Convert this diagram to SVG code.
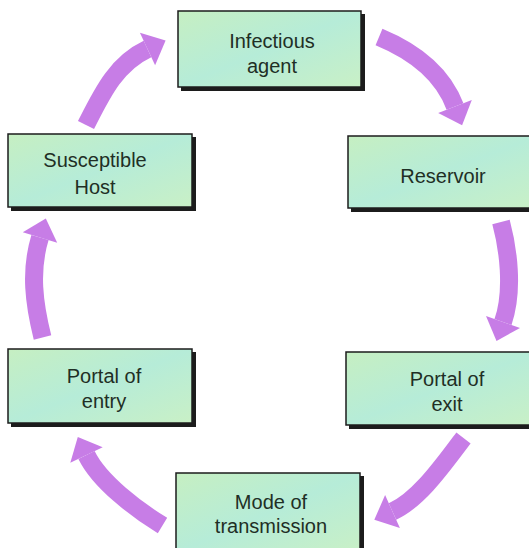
<svg xmlns="http://www.w3.org/2000/svg" width="529" height="548" viewBox="0 0 529 548">
<defs>
<linearGradient id="g" x1="0" y1="0" x2="1" y2="1">
<stop offset="0" stop-color="#c6efc2"/>
<stop offset="0.5" stop-color="#b6ecd8"/>
<stop offset="1" stop-color="#c9f0c6"/>
</linearGradient>
<style>
.sh{fill:#1c1c1c}
.bx{fill:url(#g);stroke:#1c1c1c;stroke-width:1.5}
.t{font-family:"Liberation Sans",Arial,sans-serif;font-size:20px;fill:#1f2f25;text-anchor:middle}
.ab{fill:none;stroke:#c77de6;stroke-width:18}
.ah{fill:#c77de6}
</style>
</defs>
<rect width="529" height="548" fill="#ffffff"/>
<g id="connectors">
<path class="ab" d="M379,37 Q438,61.4 455,106.5"/>
<polygon class="ah" points="471.8,100.1 438.2,112.9 462.1,125.2"/>
<path class="ab" d="M501,222 C508,248 514,290 503,322"/>
<polygon class="ah" points="520,327.9 486,316.1 496.5,340.9"/>
<path class="ab" d="M463.5,438 C445,462 420,499 392.5,511.5"/>
<polygon class="ah" points="399.9,527.9 385.1,495.1 374.3,519.7"/>
<path class="ab" d="M162.5,525.5 C137,510 99.6,482 86.5,455"/>
<polygon class="ah" points="102.7,447.2 70.3,462.8 77.8,437"/>
<path class="ab" d="M42.5,337.5 C34,303.5 29.8,271 40,237.5"/>
<polygon class="ah" points="57.2,242.8 22.8,232.2 45.8,218.4"/>
<path class="ab" d="M86,125 C101.8,93.9 115.8,63.8 147.5,49"/>
<polygon class="ah" points="155.1,65.3 139.9,32.7 165.6,40.5"/>
</g>
<g id="infectious-agent">
<rect class="sh" x="181" y="14" width="184" height="77"/>
<rect class="bx" x="178" y="11" width="183" height="76"/>
<text class="t" x="272" y="48">Infectious</text>
<text class="t" x="272" y="73">agent</text>
</g>
<g id="reservoir">
<rect class="sh" x="351" y="139" width="190" height="73"/>
<rect class="bx" x="348" y="136" width="190" height="72"/>
<text class="t" x="443" y="183">Reservoir</text>
</g>
<g id="portal-of-exit">
<rect class="sh" x="349" y="355" width="190" height="74"/>
<rect class="bx" x="346" y="352" width="190" height="73"/>
<text class="t" x="447" y="386">Portal of</text>
<text class="t" x="447" y="411">exit</text>
</g>
<g id="mode-of-transmission">
<rect class="sh" x="179" y="476" width="185" height="80"/>
<rect class="bx" x="176" y="473" width="184" height="80"/>
<text class="t" x="271" y="509">Mode of</text>
<text class="t" x="271" y="533">transmission</text>
</g>
<g id="portal-of-entry">
<rect class="sh" x="11" y="352" width="185" height="75"/>
<rect class="bx" x="8" y="349" width="184" height="74"/>
<text class="t" x="104" y="383">Portal of</text>
<text class="t" x="104" y="408">entry</text>
</g>
<g id="susceptible-host">
<rect class="sh" x="11" y="137" width="185" height="74"/>
<rect class="bx" x="8" y="134" width="184" height="73"/>
<text class="t" x="95" y="167">Susceptible</text>
<text class="t" x="95" y="194">Host</text>
</g>
</svg>
